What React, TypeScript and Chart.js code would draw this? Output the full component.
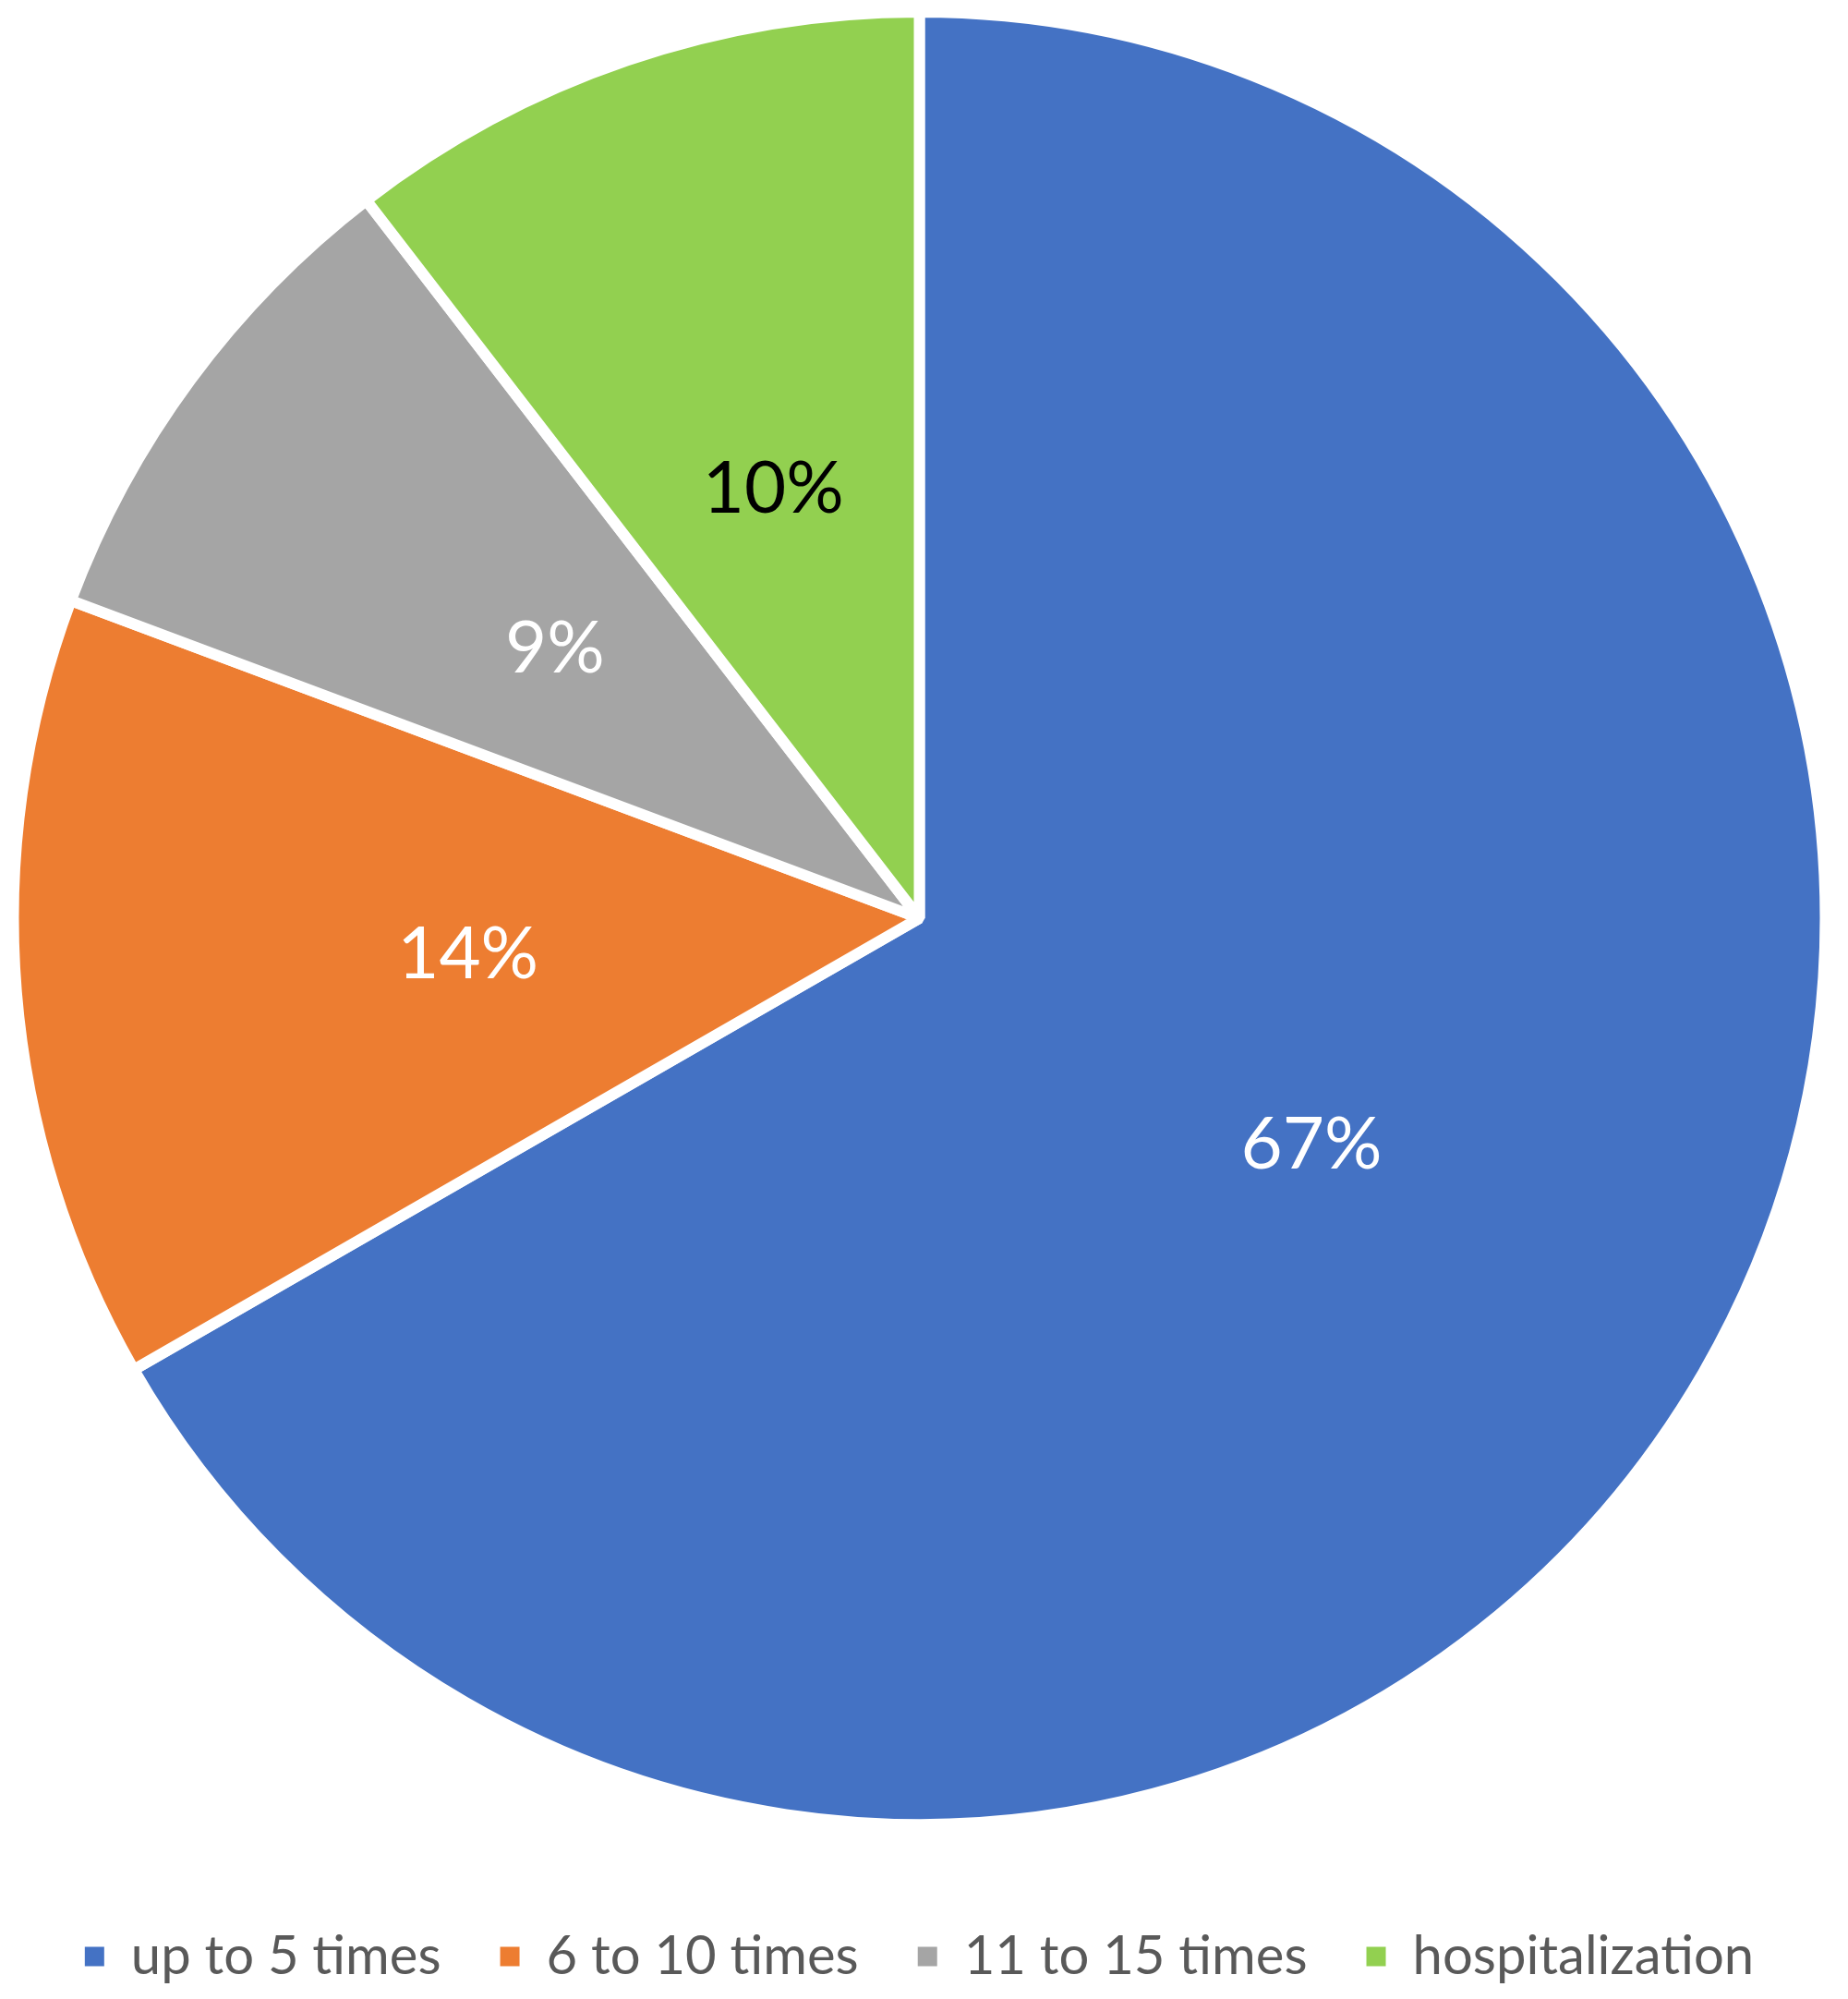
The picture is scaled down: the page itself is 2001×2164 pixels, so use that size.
import React, { useEffect, useRef } from "react";
import { Chart, registerables } from "chart.js";

Chart.register(...registerables);

const categories = ["up to 5 times", "6 to 10 times", "11 to 15 times", "hospitalization"];
const shares = [66.7, 14.0, 8.85, 10.45];
const sliceColors = ["#4472C4", "#ED7D31", "#A5A5A5", "#92D050"];
const labelColors = ["#FFFFFF", "#FFFFFF", "#FFFFFF", "#000000"];

const FONT = "Lato, 'Open Sans', sans-serif";

const sliceLabels = {
  id: "sliceLabels",
  afterDatasetsDraw(chart: any) {
    const ctx = chart.ctx;
    const meta = chart.getDatasetMeta(0);
    ctx.save();
    ctx.font = `78px ${FONT}`;
    ctx.textAlign = "center";
    ctx.textBaseline = "middle";
    meta.data.forEach((arc: any, i: number) => {
      const p = arc.tooltipPosition();
      ctx.fillStyle = labelColors[i];
      ctx.fillText(`${Math.round(shares[i])}%`, p.x, p.y);
    });
    ctx.restore();
  },
};

export default function App() {
  const ref = useRef<HTMLCanvasElement | null>(null);
  useEffect(() => {
    document.body.style.margin = "0";
    const chart = new Chart(ref.current!, {
      type: "pie",
      data: {
        labels: categories,
        datasets: [
          {
            data: shares,
            backgroundColor: sliceColors,
            borderColor: "#FFFFFF",
            borderWidth: 12,
          },
        ],
      },
      options: {
        animation: false,
        responsive: false,
        maintainAspectRatio: false,
        layout: { padding: { top: 7, bottom: 7, left: 0, right: 10 } },
        plugins: {
          tooltip: { enabled: false },
          legend: {
            position: "bottom",
            title: {
              display: true,
              text: " ",
              font: { family: FONT, size: 10 },
              padding: { top: 0, bottom: 32 },
            },
            labels: {
              font: { family: FONT, size: 58 },
              color: "#595959",
              boxWidth: 21,
              boxHeight: 21,
              padding: 64,
              generateLabels: (chart: any) =>
                Chart.overrides.pie.plugins.legend.labels
                  .generateLabels(chart)
                  .map((l: any) => ({ ...l, lineWidth: 0, strokeStyle: l.fillStyle })),
            },
          },
        },
      },
      plugins: [sliceLabels],
    });
    return () => chart.destroy();
  }, []);
  return (
    <div style={{ width: 2001, height: 2164, background: "#fff" }}>
      <canvas ref={ref} width={2001} height={2164} style={{ width: 2001, height: 2164, display: "block" }} />
    </div>
  );
}
